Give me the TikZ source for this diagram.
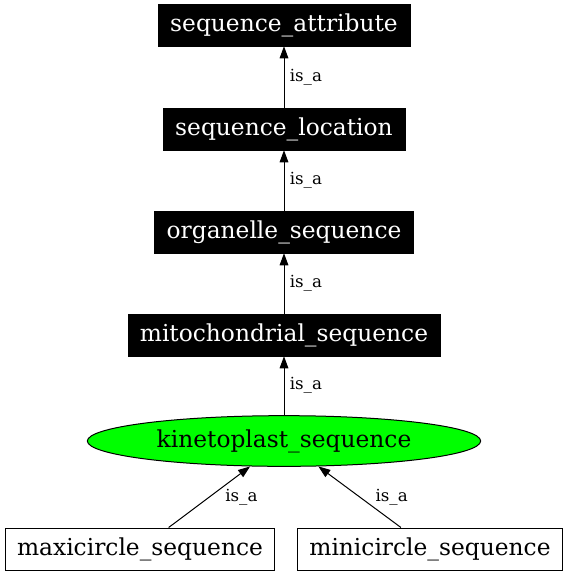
\documentclass[tikz,border=0pt]{standalone}
\usepackage{fontspec}
\setmainfont{DejaVu Serif}
\usetikzlibrary{shapes.geometric,arrows.meta}

\begin{document}
\begin{tikzpicture}[x=0.75pt, y=-0.75pt,
  termbox/.style={rectangle, fill=black, draw=black, text=white, inner xsep=9pt, minimum height=31.5pt, font=\fontsize{17.5}{20}\selectfont},
  leafbox/.style={rectangle, draw=black, line width=0.75pt, inner xsep=9pt, minimum height=31.5pt, font=\fontsize{17.5}{20}\selectfont},
  isa/.style={-{Triangle[length=9pt,width=6.5pt]}, line width=0.75pt},
  isalbl/.style={font=\fontsize{12.5}{14}\selectfont, inner sep=1pt}]
\useasboundingbox (0,0) rectangle (568,576);

\node[termbox] (v1) at (284,25) {sequence\_attribute};
\node[termbox] (v2) at (284,129) {sequence\_location};
\node[termbox] (v3) at (284,232) {organelle\_sequence};
\node[termbox] (v4) at (284,335) {mitochondrial\_sequence};
\node[ellipse, draw=black, line width=0.75pt, fill=green, minimum width=295pt, minimum height=38pt, inner sep=0pt, font=\fontsize{17.5}{20}\selectfont] (v5) at (284,441) {kinetoplast\_sequence};
\node[leafbox] (v6) at (140,549) {maxicircle\_sequence};
\node[leafbox] (v7) at (430,549) {minicircle\_sequence};

\draw[isa] (v2) -- node[isalbl, right, xshift=3pt] {is\_a} (v1);
\draw[isa] (v3) -- node[isalbl, right, xshift=3pt] {is\_a} (v2);
\draw[isa] (v4) -- node[isalbl, right, xshift=3pt] {is\_a} (v3);
\draw[isa] (v5) -- node[isalbl, right, xshift=3pt] {is\_a} (v4);
\draw[isa] (v6) -- node[isalbl, xshift=24pt] {is\_a} (v5);
\draw[isa] (v7) -- node[isalbl, xshift=24pt] {is\_a} (v5);

\end{tikzpicture}
\end{document}
